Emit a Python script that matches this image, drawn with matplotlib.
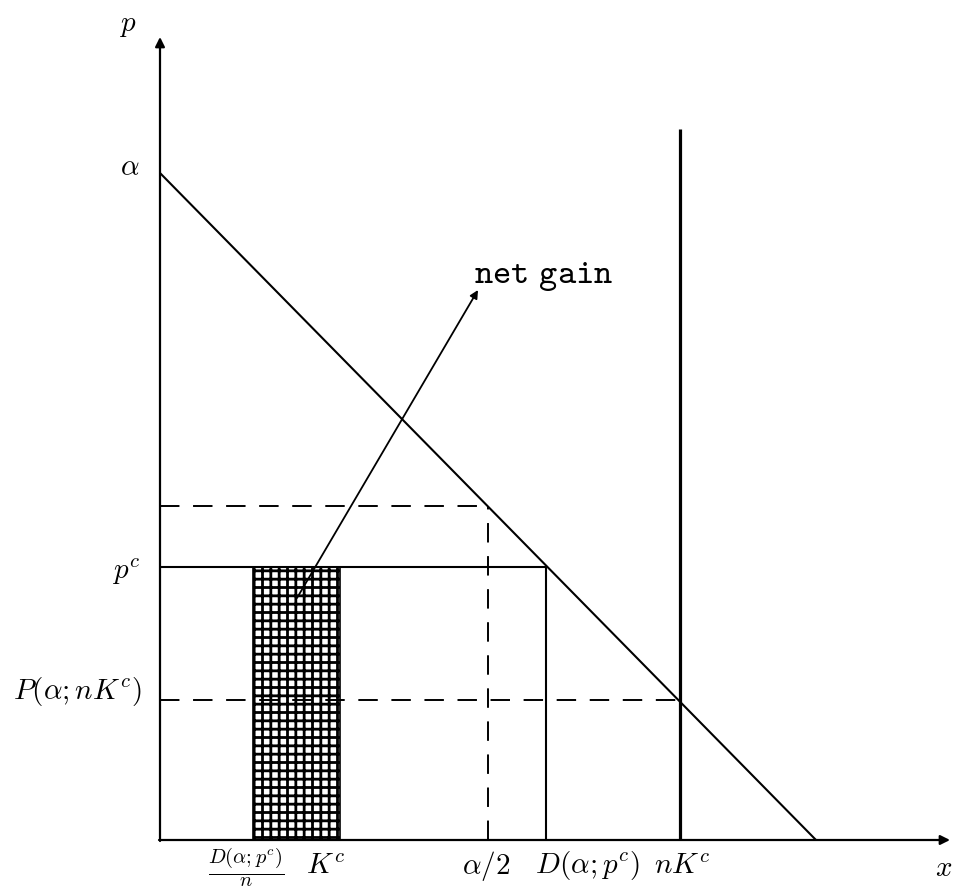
import matplotlib.pyplot as plt
import matplotlib as mpl

mpl.rcParams['mathtext.fontset'] = 'cm'
mpl.rcParams['hatch.linewidth'] = 2.0

# data units: pixels right of / above the origin of the diagram
ox, oy = 160, 840    # origin in the picture

alpha = 667          # demand intercept on the p axis
x_int = 656          # demand intercept on the x axis
y_top = 803          # end of p axis
x_right = 790        # end of x axis

p_half = 334         # price at alpha/2
p_c = 273            # p^c
P_nKc = 140          # P(alpha; nK^c)

x_Dn = 93            # D(alpha;p^c)/n
x_Kc = 180           # K^c
x_half = 328         # alpha/2
x_D = 386            # D(alpha;p^c)
x_nKc = 520          # nK^c
nKc_top = 711        # top of the capacity line

arrow_start = (137, 242)
arrow_end = (318, 550)

fig = plt.figure(figsize=(9.59, 8.93), dpi=100)
ax = fig.add_axes([0, 0, 1, 1])
ax.set_xlim(-ox, 959 - ox)
ax.set_ylim(-(893 - oy), oy)
ax.axis('off')

k = dict(color='black', lw=1.5, solid_capstyle='butt')
dash = dict(color='black', lw=1.4, dashes=(10, 7))

# axes with arrows
ax.annotate('', xy=(0, y_top), xytext=(0, -1),
            arrowprops=dict(arrowstyle='-|>', color='black', lw=1.6, mutation_scale=14, shrinkA=0, shrinkB=0))
ax.annotate('', xy=(x_right, 0), xytext=(-1, 0),
            arrowprops=dict(arrowstyle='-|>', color='black', lw=1.6, mutation_scale=14, shrinkA=0, shrinkB=0))

# demand
ax.plot([0, x_int], [alpha, 0], **k)

# hatched net gain block
ax.fill_between([x_Dn, x_Kc], 0, p_c, facecolor='white', edgecolor='black', hatch='++', lw=0)
ax.plot([x_Dn, x_Dn], [0, p_c], color='black', lw=1.2)
ax.plot([x_Kc, x_Kc], [0, p_c], color='black', lw=1.2)

# p^c line and D(alpha;p^c)
ax.plot([0, x_D], [p_c, p_c], **k)
ax.plot([x_D, x_D], [0, p_c], **k)

# alpha/2 dashed
ax.plot([0, x_half], [p_half, p_half], **dash)
ax.plot([x_half, x_half], [0, p_half], **dash)

# P(alpha;nK^c) dashed
ax.plot([0, x_nKc], [P_nKc, P_nKc], **dash)

# capacity line
ax.plot([x_nKc, x_nKc], [0, nKc_top], color='black', lw=2.3, solid_capstyle='butt')

# net gain arrow
ax.annotate('', xy=arrow_end, xytext=arrow_start,
            arrowprops=dict(arrowstyle='-|>', color='black', lw=1.3, mutation_scale=12, shrinkA=0, shrinkB=0))
ax.text(314, 564, r'$\mathtt{net\ gain}$', fontsize=25, ha='left', va='center')

fs = 21
ax.text(-32, 815, r'$p$', fontsize=fs, ha='center', va='center')
ax.text(-30, 673, r'$\alpha$', fontsize=fs, ha='center', va='center')
ax.text(-20, 268, r'$p^c$', fontsize=fs, ha='right', va='center')
ax.text(-18, 148, r'$P(\alpha;nK^c)$', fontsize=fs, ha='right', va='center')
ax.text(784, -28, r'$x$', fontsize=fs, ha='center', va='center')

ax.text(x_Dn - 7, -28, r'$\frac{D(\alpha;p^c)}{n}$', fontsize=fs, ha='center', va='center')
ax.text(x_Kc - 15, -26, r'$K^c$', fontsize=fs, ha='center', va='center')
ax.text(x_half - 2, -26, r'$\alpha/2$', fontsize=fs, ha='center', va='center')
ax.text(x_D + 41, -26, r'$D(\alpha;p^c)$', fontsize=fs, ha='center', va='center')
ax.text(x_nKc + 2, -26, r'$nK^c$', fontsize=fs, ha='center', va='center')

fig.savefig('out.png', dpi=100)
